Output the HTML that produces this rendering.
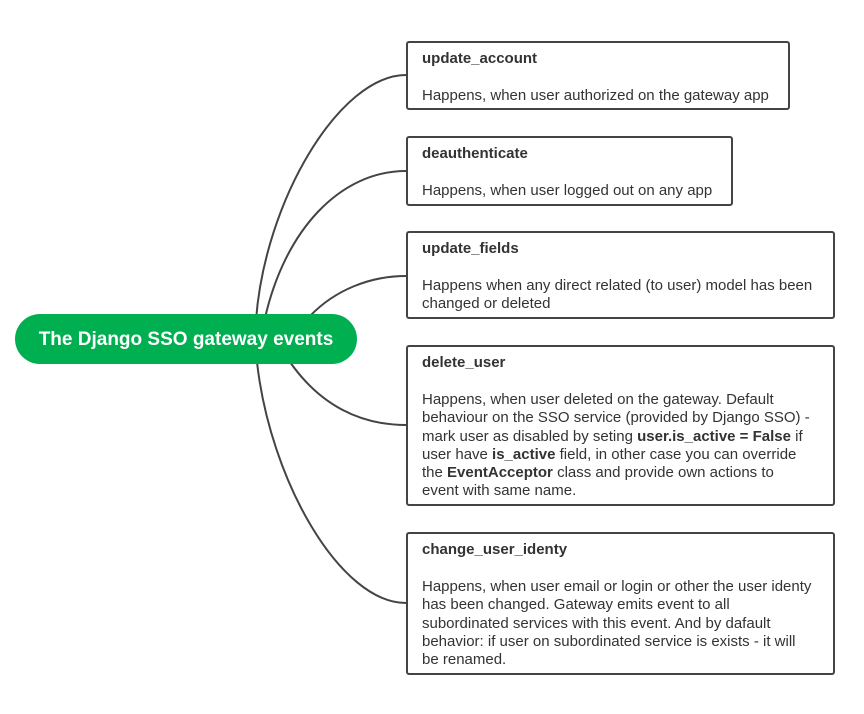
<!DOCTYPE html>
<html><head><style>
body{margin:0;width:864px;height:714px;background:#fff;position:relative;font-family:"Liberation Sans",sans-serif;color:#333;overflow:hidden}
.b{position:absolute;left:406px;border:2px solid #444;border-radius:3px;box-sizing:border-box;background:#fff;padding:7px 0 0 14px;font-size:15px;line-height:18.2px;white-space:nowrap}
.b .t{font-weight:bold;margin-bottom:19px}
.p{position:absolute;left:15px;top:314px;width:342px;height:50px;border-radius:25px;background:#00af50;color:#fff;font-weight:bold;font-size:19px;line-height:51px;text-align:center}
svg{position:absolute;left:0;top:0}
</style></head><body>
<svg width="864" height="714"><g fill="none" stroke="#444" stroke-width="2">
<path d="M256 320 C 265 200, 340 75, 406 75"/>
<path d="M265 318 C 285 230, 340 171, 406 171"/>
<path d="M310 316 C 335 290, 370 276, 406 276"/>
<path d="M290 362 C 320 405, 360 425, 406 425"/>
<path d="M257 362 C 270 480, 340 603, 406 603"/>
</g></svg>
<div class="p">The Django SSO gateway events</div>
<div class="b" style="top:41px;width:384px;height:69px"><div class="t">update_account</div>Happens, when user authorized on the gateway app</div>
<div class="b" style="top:136px;width:327px;height:70px"><div class="t">deauthenticate</div>Happens, when user logged out on any app</div>
<div class="b" style="top:231px;width:429px;height:88px"><div class="t">update_fields</div>Happens when any direct related (to user) model has been<br>changed or deleted</div>
<div class="b" style="top:345px;width:429px;height:161px"><div class="t">delete_user</div>Happens, when user deleted on the gateway. Default<br>behaviour on the SSO service (provided by Django SSO) -<br>mark user as disabled by seting <b>user.is_active = False</b> if<br>user have <b>is_active</b> field, in other case you can override<br>the <b>EventAcceptor</b> class and provide own actions to<br>event with same name.</div>
<div class="b" style="top:532px;width:429px;height:143px"><div class="t">change_user_identy</div>Happens, when user email or login or other the user identy<br>has been changed. Gateway emits event to all<br>subordinated services with this event. And by dafault<br>behavior: if user on subordinated service is exists - it will<br>be renamed.</div>
</body></html>
